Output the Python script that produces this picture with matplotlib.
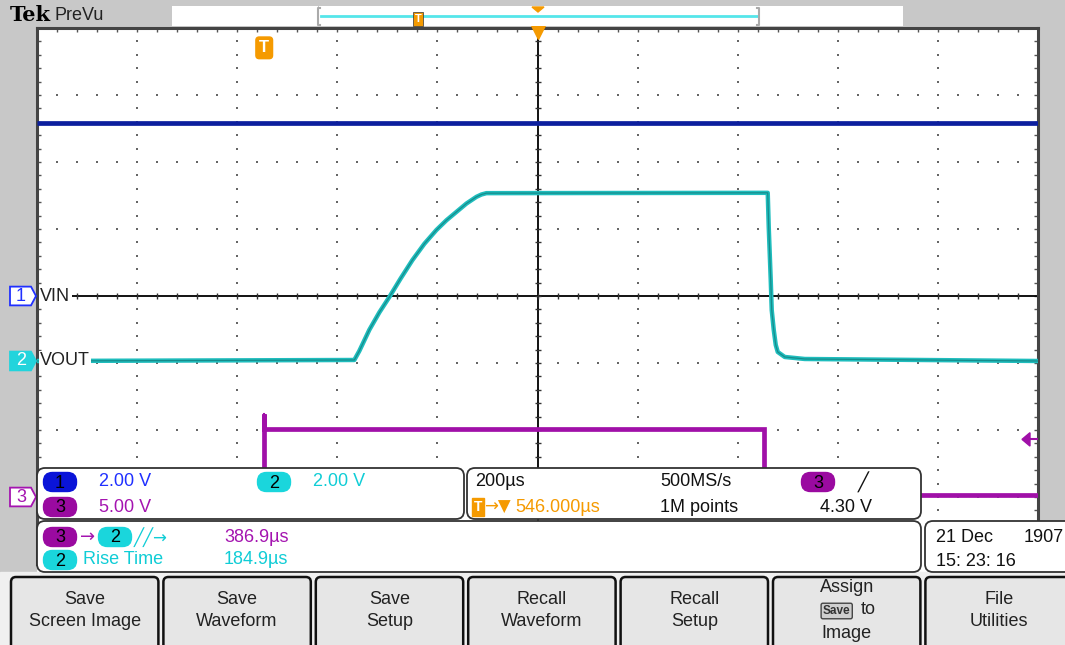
import matplotlib.pyplot as plt
from matplotlib.patches import FancyBboxPatch, Rectangle, Polygon
import numpy as np

plt.rcParams['font.family'] = ['Liberation Sans Narrow', 'Liberation Sans', 'DejaVu Sans']

# --- waveform data (time in us after trigger, volts) ---
t1 = [-454, 1546]
v1 = [5.16, 5.16]
t2 = [-454, 180, 190, 210, 230, 250, 272, 296, 320, 344, 364, 384, 404, 424, 434, 444,
      1006, 1008, 1012, 1014, 1018, 1022, 1026, 1040, 1080, 1546]
v2 = [0.0, 0.03, 0.3, 0.93, 1.45, 1.91, 2.45, 3.01, 3.5, 3.91, 4.2, 4.45, 4.7, 4.90, 4.97, 5.01,
      5.02, 4.00, 2.42, 1.52, 0.93, 0.48, 0.27, 0.12, 0.06, 0.0]
t3 = [-454, 0, 0, 0, 998, 998, 1546]
v3 = [0.15, 0.15, 6.2, 5.07, 5.07, 0.15, 0.15]

volts_per_div = {1: 2.0, 2: 2.0, 3: 5.0}
offset_div = {1: 0.0, 2: -0.97, 3: -3.0}
trig_level = 4.30
time_per_div = 200
center_time = 546

ch_labels = ['1', '2', '3']
button_labels = [['Save', 'Screen Image'], ['Save', 'Waveform'], ['Save', 'Setup'],
                 ['Recall', 'Waveform'], ['Recall', 'Setup'], ['Assign', '', 'Image'],
                 ['File', 'Utilities']]

C1, C1T = '#0c1f9e', '#2030ff'
C2, C2T = '#1fbdbd', '#10cdd6'
C3, C3T = '#a010a8', '#a414b0'
ORG = '#f59a00'
GRAY = '#c8c8c8'

W, H = 1065, 645
fig = plt.figure(figsize=(W / 100, H / 100), dpi=100)
fig.patch.set_facecolor('white')

# background axes (gray bars)
bg = fig.add_axes([0, 0, 1, 1], zorder=0)
bg.set_xlim(0, W); bg.set_ylim(H, 0); bg.axis('off')
bg.add_patch(Rectangle((0, 0), W, 27, color=GRAY))
bg.add_patch(Rectangle((0, 0), 36, 575, color=GRAY))
bg.add_patch(Rectangle((1040, 27), 25, 495, color=GRAY))
bg.add_patch(Rectangle((0, 572), W, 73, color='#f0f0f0'))

# main graticule axes
L, R, T, B = 37, 1038, 28, 564
ax = fig.add_axes([L / W, 1 - B / H, (R - L) / W, (B - T) / H], zorder=1)
xmin = center_time - 5 * time_per_div
xmax = center_time + 5 * time_per_div
ax.set_xlim(xmin, xmax)
ax.set_ylim(-4, 4)
ax.set_facecolor('white')

minor_x = np.arange(xmin, xmax + 1, time_per_div / 5)
minor_y = np.arange(-4, 4.01, 0.2)
major_x = np.arange(xmin, xmax + 1, time_per_div)
major_y = np.arange(-4, 5, 1)

ax.set_xticks(minor_x)
ax.set_yticks(minor_y)
ax.tick_params(direction='in', length=3, width=1, color='#555555',
               top=True, bottom=False, left=True, right=True,
               labelbottom=False, labelleft=False)
for s in ['left', 'top', 'right']:
    ax.spines[s].set_color('#444444')
    ax.spines[s].set_linewidth(2.2)
ax.spines['bottom'].set_visible(False)

# dotted graticule
for mx in major_x[1:-1]:
    ax.scatter(np.full(len(minor_y), mx), minor_y, s=1.6, marker='s', color='#666666', lw=0, zorder=1)
for my in major_y[1:-1]:
    ax.scatter(minor_x, np.full(len(minor_x), my), s=1.6, marker='s', color='#666666', lw=0, zorder=1)
# centre crosshair with ticks
ax.axvline(center_time, color='black', lw=1.3, zorder=2)
ax.axhline(0, color='black', lw=1.3, zorder=2)
ax.plot(minor_x, np.zeros(len(minor_x)), ls='none', marker='|', ms=5, mew=1, color='#333333', zorder=2)
ax.plot(np.full(len(minor_y), center_time), minor_y, ls='none', marker='_', ms=5, mew=1, color='#333333', zorder=2)


def to_div(ch, v):
    return offset_div[ch] + np.asarray(v) / volts_per_div[ch]


ax.plot(t1, to_div(1, v1), color=C1, lw=3.4, zorder=4, solid_capstyle='butt')
ax.plot(t3, to_div(3, v3), color=C3, lw=3.4, zorder=4, solid_joinstyle='miter')
ax.plot([0, 0], [to_div(3, v3[1]), to_div(3, v3[2])], color=C3, lw=1.5, zorder=4)
ax.plot(t2, to_div(2, v2), color=C2, lw=3.2, zorder=5)
ax.plot(t2, to_div(2, v2), color='#137777', lw=0.9, alpha=0.7, zorder=5)

ytr = ax.get_yaxis_transform()
xtr = ax.get_xaxis_transform()

# channel labels on the graticule
ax.text(0.003, offset_div[1], 'VIN', transform=ytr, ha='left', va='center', fontsize=13,
        color='#222222', zorder=6, bbox=dict(fc='white', ec='none', pad=1))
ax.text(0.003, offset_div[2], 'VOUT', transform=ytr, ha='left', va='center', fontsize=13,
        color='#222222', zorder=6, bbox=dict(fc='white', ec='none', pad=1))

# channel ground markers on the left bar
px = lambda p: (p - L) / (R - L)
marker_style = {1: ('white', C1T, C1T), 2: ('#22d4dc', '#22d4dc', 'white'), 3: ('white', C3T, C3T)}
for ch in [1, 2, 3]:
    fc, ec, tc = marker_style[ch]
    y0 = offset_div[ch]
    h = 0.14
    poly = Polygon([(px(10), y0 - h), (px(31), y0 - h), (px(36), y0), (px(31), y0 + h), (px(10), y0 + h)],
                   closed=True, transform=ytr, fc=fc, ec=ec, lw=1.3, clip_on=False, zorder=7)
    ax.add_patch(poly)
    ax.text(px(21), y0, ch_labels[ch - 1], transform=ytr, ha='center', va='center', fontsize=13,
            color=tc, clip_on=False, zorder=8)

# trigger markers
ax.text(0, 0.963, 'T', transform=xtr, ha='center', va='center', fontsize=12, weight='bold',
        color='white', zorder=8, bbox=dict(boxstyle='round,pad=0.2', fc=ORG, ec=ORG))
ax.plot([center_time], [0.992], transform=xtr, marker='v', ms=10, color=ORG, clip_on=False, zorder=8)
lvl = offset_div[3] + trig_level / volts_per_div[3]
ax.add_patch(Polygon([(px(1022), lvl), (px(1030), lvl + 0.1), (px(1030), lvl - 0.1)], closed=True,
                     transform=ytr, fc=C3, ec=C3, zorder=8))
ax.plot([px(1029), 1.0], [lvl, lvl], transform=ytr, color=C3, lw=1.5, zorder=8)

# overlay axes for readouts and buttons
ov = fig.add_axes([0, 0, 1, 1], zorder=3)
ov.set_xlim(0, W); ov.set_ylim(H, 0); ov.axis('off')
ov.patch.set_alpha(0)


def panel(x0, y0, x1, y1, r=8):
    ov.add_patch(FancyBboxPatch((x0 + r, y0 + r), x1 - x0 - 2 * r, y1 - y0 - 2 * r,
                                boxstyle='round,pad=%d' % r, fc='white', ec='#333333', lw=1.3))


def pill(xc, yc, label, fc, w=33, h=19):
    ov.add_patch(FancyBboxPatch((xc - w / 2 + 9, yc - h / 2 + 9), w - 18, h - 18,
                                boxstyle='round,pad=9', fc=fc, ec=fc))
    ov.text(xc, yc + 1, label, ha='center', va='center', fontsize=13, color='black')


FS = 13
# top bar
ov.text(10, 15, 'Tek', fontsize=15, weight='bold', family='DejaVu Serif', va='center', ha='left')
ov.text(54, 15, 'PreVu', fontsize=13, va='center', ha='left', color='#222222')
ov.add_patch(Rectangle((172, 6), 146, 20, fc='white', ec='none'))
ov.add_patch(Rectangle((319, 6), 441, 20, fc='white', ec='none'))
ov.add_patch(Rectangle((760, 6), 143, 20, fc='white', ec='none'))
ov.plot([321, 758], [16, 16], color='#55e6ea', lw=2)
ov.plot([320, 318, 318, 320], [8, 8, 25, 25], color='#aaaaaa', lw=1.5)
ov.plot([757, 759, 759, 757], [8, 8, 25, 25], color='#aaaaaa', lw=1.5)
ov.text(418, 19, 'T', ha='center', va='center', fontsize=8, weight='bold', color='white',
        bbox=dict(boxstyle='square,pad=0.15', fc=ORG, ec='#333333', lw=0.5))
ov.add_patch(Polygon([(532, 7), (544, 7), (538, 12)], closed=True, fc=ORG, ec=ORG))

# channel panel
panel(37, 468, 464, 519)
pill(60, 482, '1', '#0a14d8')
ov.text(99, 482, '2.00 V', color=C1T, fontsize=FS, va='center')
pill(60, 507, '3', '#9a0aa0')
ov.text(99, 507, '5.00 V', color=C3T, fontsize=FS, va='center')
pill(274, 482, '2', '#1ad6dc')
ov.text(313, 482, '2.00 V', color=C2T, fontsize=FS, va='center')

# timebase panel
panel(467, 468, 921, 519)
ov.text(475, 482, '200µs', fontsize=FS, va='center', color='#111111')
ov.text(660, 482, '500MS/s', fontsize=FS, va='center', color='#111111')
pill(818, 482, '3', '#9a0aa0')
ov.text(858, 482, '╱', fontsize=FS, va='center', color='#111111', family='DejaVu Sans')
ov.text(478, 507, 'T', ha='center', va='center', fontsize=10, weight='bold', color='white',
        bbox=dict(boxstyle='square,pad=0.15', fc=ORG, ec=ORG))
ov.text(484, 507, '→▼', fontsize=12, va='center', color=ORG, family='DejaVu Sans')
ov.text(515, 507, '546.000µs', fontsize=FS, va='center', color=ORG)
ov.text(660, 507, '1M points', fontsize=FS, va='center', color='#111111')
ov.text(820, 507, '4.30 V', fontsize=FS, va='center', color='#111111')

# measurement panel
panel(37, 521, 921, 572)
pill(60, 537, '3', '#9a0aa0')
ov.text(80, 537, '→', fontsize=13, va='center', color=C3T, family='DejaVu Sans')
pill(115, 537, '2', '#1ad6dc')
ov.text(134, 537, '╱╱→', fontsize=12, va='center', color=C2T, family='DejaVu Sans')
ov.text(224, 537, '386.9µs', fontsize=FS, va='center', color=C3T)
pill(60, 560, '2', '#1ad6dc')
ov.text(83, 560, 'Rise Time', fontsize=FS, va='center', color=C2T)
ov.text(224, 560, '184.9µs', fontsize=FS, va='center', color=C2T)

# date panel
panel(925, 521, 1080, 572)
ov.text(936, 538, '21 Dec', fontsize=FS, va='center', color='#111111')
ov.text(1024, 538, '1907', fontsize=FS, va='center', color='#111111')
ov.text(936, 561, '15: 23: 16', fontsize=FS, va='center', color='#111111')

# soft buttons
bw = 152.4
for i, lines in enumerate(button_labels):
    x0 = 10 + i * bw
    ov.add_patch(FancyBboxPatch((x0 + 6, 582), bw - 15, 70, boxstyle='round,pad=5',
                                fc='#e6e6e6', ec='#111111', lw=1.8))
    xc = x0 + (bw - 3) / 2
    if len(lines) == 2:
        ov.text(xc, 600, lines[0], ha='center', va='center', fontsize=FS, color='#222222')
        ov.text(xc, 622, lines[1], ha='center', va='center', fontsize=FS, color='#222222')
    else:
        ov.text(xc, 588, lines[0], ha='center', va='center', fontsize=FS, color='#222222')
        ov.text(xc - 10, 611, 'Save', ha='center', va='center', fontsize=8.5, weight='bold',
                color='#333333', bbox=dict(boxstyle='round,pad=0.15', fc='#cfcfcf', ec='#444444', lw=1))
        ov.text(xc + 22, 610, 'to', ha='center', va='center', fontsize=FS, color='#222222')
        ov.text(xc, 633, lines[2], ha='center', va='center', fontsize=FS, color='#222222')

fig.savefig('out.png', dpi=100)
